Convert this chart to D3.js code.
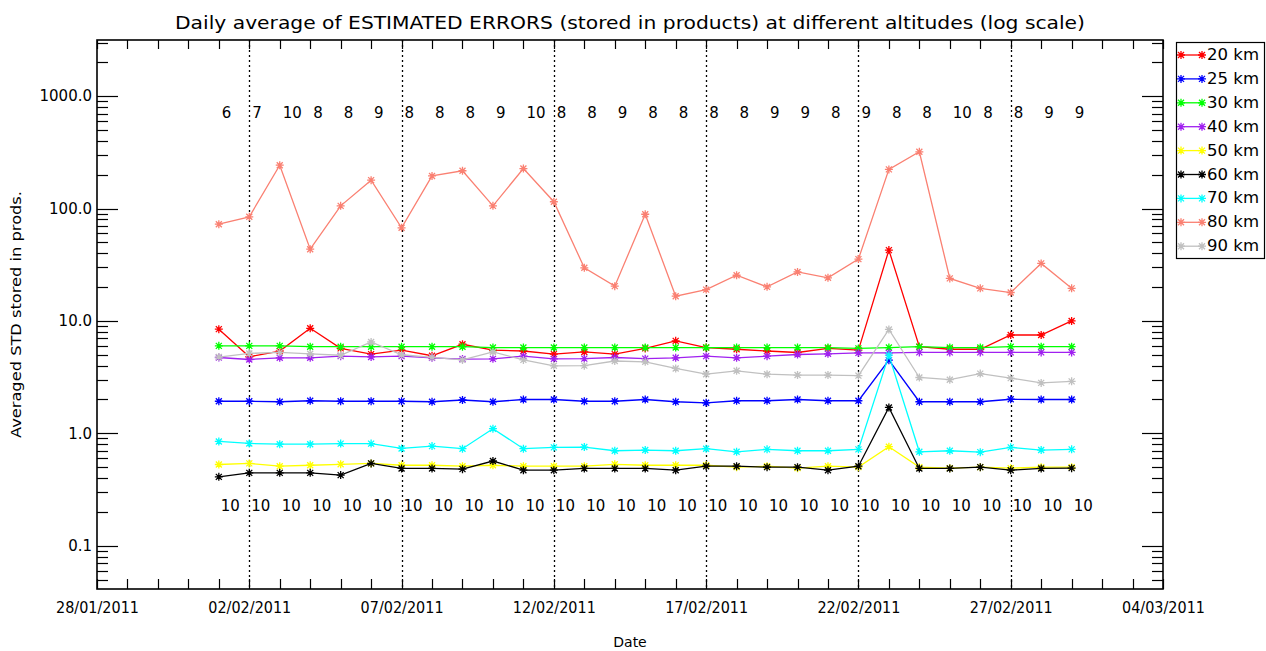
<!DOCTYPE html>
<html>
<head>
<meta charset="utf-8">
<script src="https://cdn.jsdelivr.net/npm/d3@7"></script>
<style>
  html, body { margin: 0; padding: 0; background: #fff; }
  svg { display: block; }
  text { font-family: "DejaVu Sans", sans-serif; fill: #000; }
</style>
</head>
<body>
<svg id="chart" width="1266" height="651"></svg>
<script>
// Days with products (one point per day)
const days = [
  "2011-02-01","2011-02-02","2011-02-03","2011-02-04","2011-02-05","2011-02-06","2011-02-07",
  "2011-02-08","2011-02-09","2011-02-10","2011-02-11","2011-02-12","2011-02-13","2011-02-14",
  "2011-02-15","2011-02-16","2011-02-17","2011-02-18","2011-02-19","2011-02-20","2011-02-21",
  "2011-02-22","2011-02-23","2011-02-24","2011-02-25","2011-02-26","2011-02-27","2011-02-28",
  "2011-03-01"
];

// Number of products per day (top row) and per day at altitude (bottom row)
const countsTop = [6,7,10,8,8,9,8,8,8,9,10,8,8,9,8,8,8,8,9,9,8,9,8,8,10,8,8,9,9];
const countsBottom = [10,10,10,10,10,10,10,10,10,10,10,10,10,10,10,10,10,10,10,10,10,10,10,10,10,10,10,10,10];

// Averaged STD per altitude
const altitudeLabels = ["20 km","25 km","30 km","40 km","50 km","60 km","70 km","80 km","90 km"];
const altitudeColors = ["#ff0000","#0000ff","#00ff00","#a020f0","#ffff00","#000000","#00ffff","#fa8072","#c0c0c0"];

const std20 = [8.45,4.8,5.4,8.6,5.7,5.07,5.5,4.9,6.2,5.5,5.4,5.07,5.3,5.07,5.7,6.65,5.8,5.6,5.4,5.24,5.7,5.5,42.7,5.9,5.6,5.6,7.5,7.5,10.0];
const std25 = [1.93,1.93,1.91,1.95,1.93,1.93,1.93,1.91,1.98,1.91,2.0,2.0,1.93,1.93,2.0,1.91,1.87,1.95,1.95,2.0,1.95,1.95,4.48,1.91,1.91,1.91,2.01,2.0,2.0];
const std30 = [6.0,6.0,6.0,5.9,5.9,5.9,5.9,5.9,5.9,5.8,5.8,5.8,5.8,5.8,5.8,5.8,5.8,5.8,5.8,5.8,5.8,5.7,5.8,5.9,5.8,5.8,5.9,5.9,5.9];
const std40 = [4.73,4.54,4.70,4.70,4.86,4.78,4.86,4.70,4.58,4.6,4.86,4.6,4.62,4.73,4.62,4.70,4.86,4.70,4.86,5.03,5.1,5.2,5.2,5.25,5.25,5.25,5.25,5.25,5.25];
const std50 = [0.528,0.54,0.51,0.52,0.53,0.54,0.52,0.52,0.51,0.52,0.51,0.51,0.51,0.53,0.52,0.52,0.52,0.50,0.51,0.49,0.51,0.50,0.76,0.50,0.49,0.50,0.49,0.50,0.50];
const std60 = [0.41,0.445,0.445,0.445,0.425,0.54,0.487,0.487,0.48,0.567,0.47,0.47,0.487,0.487,0.487,0.47,0.51,0.51,0.50,0.50,0.47,0.51,1.70,0.487,0.487,0.50,0.47,0.487,0.49];
const std70 = [0.847,0.813,0.80,0.80,0.81,0.81,0.734,0.77,0.73,1.10,0.73,0.75,0.755,0.70,0.71,0.70,0.73,0.685,0.72,0.70,0.70,0.72,4.96,0.685,0.70,0.68,0.75,0.71,0.72];
const std80 = [72.6,84.4,243,43.5,105.7,179,67.4,195,217,105.7,227,115,29.7,20.4,89,16.6,19.0,25.5,20.1,27.3,24.2,35.5,223,320,23.9,19.5,17.9,32.5,19.5];
const std90 = [4.77,5.14,5.25,5.1,4.95,6.5,5.0,4.75,4.5,5.3,4.5,3.99,4.0,4.4,4.33,3.78,3.36,3.6,3.36,3.3,3.3,3.26,8.4,3.14,3.0,3.4,3.1,2.81,2.9];

const seriesValues = [std20,std25,std30,std40,std50,std60,std70,std80,std90];

// Axis range, labelled dates and decades
const dateStart = "2011-01-28";
const dateEnd = "2011-03-04";
const xTickDates = ["2011-01-28","2011-02-02","2011-02-07","2011-02-12","2011-02-17","2011-02-22","2011-02-27","2011-03-04"];
const yMin = 0.0412, yMax = 3160;
const yTickValues = [0.1, 1, 10, 100, 1000];

// ---- layout ----
const svg = d3.select("#chart");
const L = 97, R = 1163, T = 40, B = 589;

const parse = d3.utcParse("%Y-%m-%d");
const fmt = d3.utcFormat("%d/%m/%Y");
const x = d3.scaleUtc().domain([parse(dateStart), parse(dateEnd)]).range([L, R]);
const y = d3.scaleLog().domain([yMin, yMax]).range([B, T]);
const dayDates = days.map(parse);
const majorDates = xTickDates.map(parse);

// Dashed date grid at the labelled dates
svg.append("g").selectAll("line")
  .data(majorDates.filter(d => x(d) > L + 1 && x(d) < R - 1))
  .join("line")
  .attr("x1", d => Math.round(x(d)) + 0.5).attr("x2", d => Math.round(x(d)) + 0.5)
  .attr("y1", T).attr("y2", B)
  .attr("stroke", "#000").attr("stroke-width", 1.3)
  .attr("stroke-dasharray", "2,3");

// Bottom axis: daily minor ticks, labels every 5 days
const minorDays = d3.utcDay.range(parse(dateStart), d3.utcDay.offset(parse(dateEnd), 1));
const xAxisB = d3.axisBottom(x).tickValues(majorDates).tickFormat(fmt).tickSize(0).tickPadding(13);
const gxb = svg.append("g").attr("transform", `translate(0,${B})`).call(xAxisB);
gxb.select(".domain").remove();
gxb.selectAll("text").attr("font-size", 15).attr("font-family", "DejaVu Sans")
  .attr("textLength", 83).attr("lengthAdjust", "spacingAndGlyphs");

const tickG = svg.append("g").attr("stroke", "#000").attr("stroke-width", 1.2);
minorDays.forEach(d => {
  const xx = Math.round(x(d)) + 0.5;
  tickG.append("line").attr("x1", xx).attr("x2", xx).attr("y1", B).attr("y2", B - 10);
  tickG.append("line").attr("x1", xx).attr("x2", xx).attr("y1", T).attr("y2", T + 9);
});

// Left axis (log): decades labelled, minor ticks 2..9
const yAxisL = d3.axisLeft(y).tickValues(yTickValues).tickFormat(d3.format(".1f")).tickSize(0).tickPadding(6);
const gyl = svg.append("g").attr("transform", `translate(${L},0)`).call(yAxisL);
gyl.select(".domain").remove();
gyl.selectAll("text").attr("font-size", 15).attr("font-family", "DejaVu Sans").attr("dx", 1);

const logTicks = y.ticks(40).filter(v => v >= yMin && v <= yMax);
logTicks.forEach(v => {
  const major = Math.abs(Math.log10(v) - Math.round(Math.log10(v))) < 1e-9;
  const len = major ? 21 : 11;
  const yy = Math.round(y(v)) + 0.5;
  tickG.append("line").attr("x1", L).attr("x2", L + len).attr("y1", yy).attr("y2", yy);
  tickG.append("line").attr("x1", R).attr("x2", R - len).attr("y1", yy).attr("y2", yy);
});

// Frame
svg.append("rect").attr("x", L).attr("y", T).attr("width", R - L).attr("height", B - T)
  .attr("fill", "none").attr("stroke", "#000").attr("stroke-width", 1.6);

// Asterisk marker
const star = s => {
  const d = s * 0.75;
  return `M${-s},0H${s}M0,${-s}V${s}M${-d},${-d}L${d},${d}M${-d},${d}L${d},${-d}`;
};

// Series lines with asterisk markers
const line = d3.line().x((d, i) => x(dayDates[i])).y(d => y(d));
seriesValues.forEach((vals, k) => {
  const g = svg.append("g");
  g.append("path").attr("d", line(vals)).attr("fill", "none")
    .attr("stroke", altitudeColors[k]).attr("stroke-width", 1.3);
  g.selectAll("path.m").data(vals).join("path").attr("class", "m")
    .attr("transform", (d, i) => `translate(${x(dayDates[i])},${y(d)})`)
    .attr("d", star(4)).attr("stroke", altitudeColors[k]).attr("stroke-width", 1.3).attr("fill", "none");
});

// Product counts
svg.append("g").selectAll("text").data(countsTop).join("text")
  .attr("x", (d, i) => x(dayDates[i]) + 3).attr("y", 118)
  .attr("font-size", 15).text(d => d);
svg.append("g").selectAll("text").data(countsBottom).join("text")
  .attr("x", (d, i) => x(dayDates[i]) + 2).attr("y", 511)
  .attr("font-size", 15).text(d => d);

// Titles
svg.append("text").attr("x", 630).attr("y", 29).attr("text-anchor", "middle")
  .attr("font-size", 18).attr("textLength", 910).attr("lengthAdjust", "spacingAndGlyphs")
  .text("Daily average of ESTIMATED ERRORS (stored in products) at different altitudes (log scale)");
svg.append("text").attr("x", 630).attr("y", 647).attr("text-anchor", "middle")
  .attr("font-size", 14).text("Date");
svg.append("text").attr("transform", `translate(21,${(T + B) / 2}) rotate(-90)`)
  .attr("text-anchor", "middle").attr("font-size", 14)
  .attr("textLength", 247).attr("lengthAdjust", "spacingAndGlyphs")
  .text("Averaged STD stored in prods.");

// Legend
const lg = svg.append("g");
lg.append("rect").attr("x", 1176.5).attr("y", 42.5).attr("width", 88).attr("height", 216)
  .attr("fill", "#fff").attr("stroke", "#000").attr("stroke-width", 1.2);
altitudeLabels.forEach((lab, k) => {
  const yy = 55 + k * 23.9;
  lg.append("line").attr("x1", 1181).attr("x2", 1202).attr("y1", yy).attr("y2", yy)
    .attr("stroke", altitudeColors[k]).attr("stroke-width", 1.3);
  [1181, 1202].forEach(xx => lg.append("path").attr("transform", `translate(${xx},${yy})`)
    .attr("d", star(4)).attr("stroke", altitudeColors[k]).attr("stroke-width", 1.3));
  lg.append("text").attr("x", 1207).attr("y", yy + 5).attr("font-size", 15)
    .attr("textLength", 52).attr("lengthAdjust", "spacingAndGlyphs").text(lab);
});
</script>
</body>
</html>
